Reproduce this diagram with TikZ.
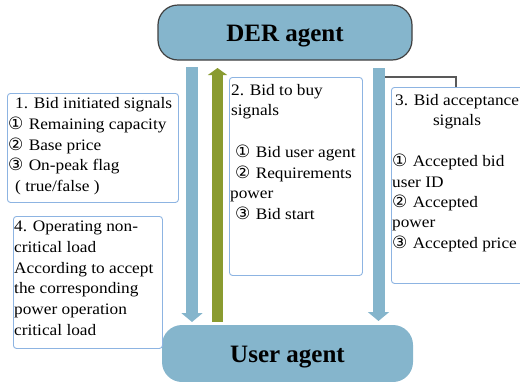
\documentclass[tikz,border=0pt]{standalone}
\usepackage{fontspec}
\setmainfont[FakeStretch=1.08]{Liberation Serif}
\newfontfamily\agentfont{Liberation Serif}
\newfontfamily\circfont{DejaVu Sans}
\usetikzlibrary{arrows.meta}
\definecolor{agentblue}{HTML}{85B5CC}
\definecolor{arrowgreen}{HTML}{8A9B30}
\definecolor{boxline}{HTML}{8DB4E2}
\definecolor{darkline}{HTML}{404040}
\definecolor{linkgray}{HTML}{595959}
\newcommand\cnum[1]{{\circfont\fontsize{17}{19}\selectfont #1}\hspace{1pt}}
\tikzset{
  agent/.style={fill=agentblue, rounded corners=20pt, inner sep=0pt,
    text height=17pt, text depth=0pt,
    font=\agentfont\fontsize{25}{30}\selectfont\bfseries},
  sigbox/.style={draw=boxline, line width=0.9pt, fill=white, rounded corners=3pt,
    inner sep=0pt, anchor=north west},
  ln/.style={anchor=base west, inner sep=0pt, font=\fontsize{16}{19}\selectfont},
  bluearrow/.style={draw=agentblue, line width=12pt, -{Triangle[length=9pt,width=21pt]}},
  greenarrow/.style={draw=arrowgreen, line width=11pt, -{Triangle[length=7pt,width=19pt]}},
  link/.style={draw=linkgray, line width=1.2pt}
}
\begin{document}
\begin{tikzpicture}[x=1pt,y=-1pt]
\path[use as bounding box] (0,0) rectangle (520,381);
\clip (0,0) rectangle (520,381);
% agents
\node[agent, draw=darkline, line width=1.2pt, minimum width=254pt, minimum height=55pt] (der) at (285,32.5) {DER agent};
\node[agent, minimum width=251pt, minimum height=57pt] (user) at (287.5,353.5) {User agent};
% arrows
\coordinate (lA) at (192,67);
\coordinate (lB) at (192,322);
\coordinate (gA) at (217.5,322);
\coordinate (gB) at (217.5,68);
\coordinate (rA) at (378.5,68);
\coordinate (rB) at (378.5,321);
\draw[bluearrow] (lA) -- (lB);
\draw[greenarrow] (gA) -- (gB);
\draw[bluearrow] (rA) -- (rB);
% boxes
\node[sigbox, minimum width=171pt, minimum height=109pt] (b1) at (7,93) {};
\node[sigbox, minimum width=149pt, minimum height=132pt] (b4) at (13,216) {};
\node[sigbox, minimum width=133pt, minimum height=198pt] (b2) at (229,77) {};
\node[sigbox, minimum width=137pt, minimum height=196pt] (b3) at (391,87) {};
% link line
\coordinate (lk) at (384.5,77);
\draw[link] (lk) -| ([xshift=65pt]b3.north west);
% box 1 text
\node[ln] (b1a) at (15,108) {1. Bid initiated signals};
\node[ln] (b1b) at (8,129) {\cnum{①} Remaining capacity};
\node[ln] (b1c) at (8,150) {\cnum{②} Base price};
\node[ln] (b1d) at (8,170.5) {\cnum{③} On-peak flag};
\node[ln] (b1e) at (15,191.5) {( true/false )};
% box 2 text
\node[ln] (b2a) at (231,95) {2. Bid to buy};
\node[ln] (b2b) at (231,115.5) {signals};
\node[ln] (b2c) at (235,157) {\cnum{①} Bid user agent};
\node[ln] (b2d) at (235,178) {\cnum{②} Requirements};
\node[ln] (b2e) at (230,198.5) {power};
\node[ln] (b2f) at (235,219.5) {\cnum{③} Bid start};
% box 3 text
\node[ln] (b3a) at (395,105) {3. Bid acceptance};
\node[ln, anchor=base] (b3b) at (457,125.5) {signals};
\node[ln] (b3c) at (392,166.5) {\cnum{①} Accepted bid};
\node[ln] (b3d) at (392,187) {user ID};
\node[ln] (b3e) at (392,207) {\cnum{②} Accepted};
\node[ln] (b3f) at (392,227.5) {power};
\node[ln] (b3g) at (392,248) {\cnum{③} Accepted price};
% box 4 text
\node[ln] (b4a) at (14,231.5) {4. Operating non-};
\node[ln] (b4b) at (14,252.5) {critical load};
\node[ln] (b4c) at (14,273) {According to accept};
\node[ln] (b4d) at (14,293.5) {the corresponding};
\node[ln] (b4e) at (14,314) {power operation};
\node[ln] (b4f) at (14,335) {critical load};
\end{tikzpicture}
\end{document}
